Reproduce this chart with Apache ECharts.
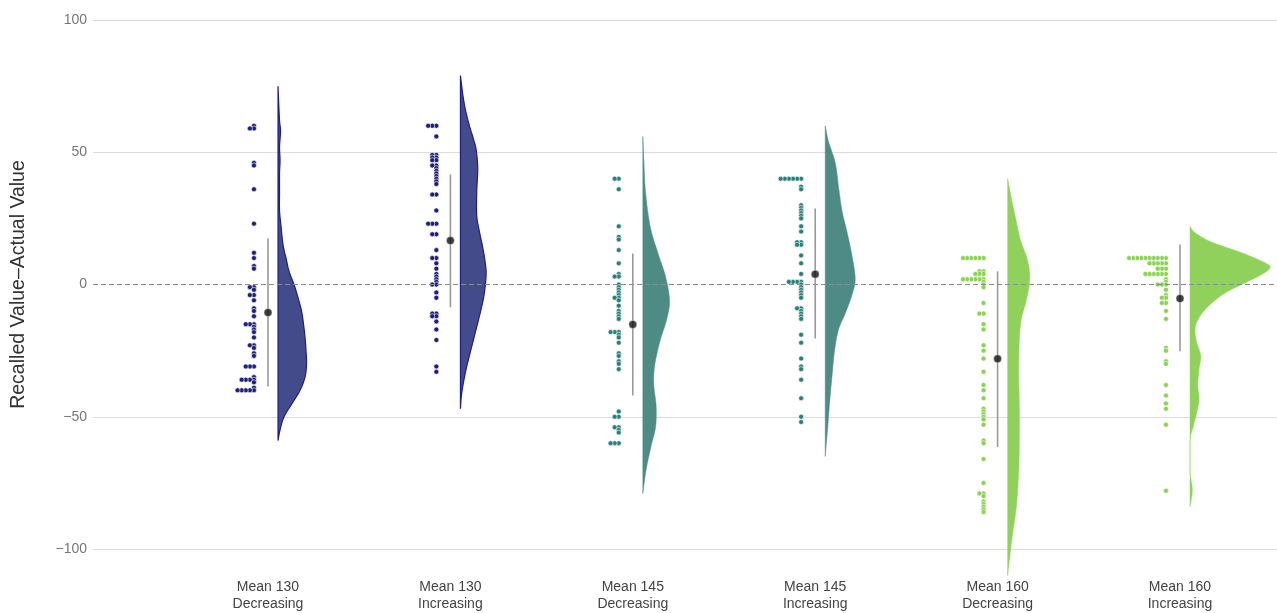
<!DOCTYPE html>
<html>
<head>
<meta charset="utf-8">
<script src="https://cdn.jsdelivr.net/npm/echarts@6/dist/echarts.min.js"></script>
<style>
  html, body { margin: 0; padding: 0; background: #fff; }
  #main { width: 1277px; height: 613px; }
</style>
</head>
<body>
<div id="main"></div>
<script>
// categories
const categories = ['Mean 130\nDecreasing', 'Mean 130\nIncreasing', 'Mean 145\nDecreasing', 'Mean 145\nIncreasing', 'Mean 160\nDecreasing', 'Mean 160\nIncreasing']
const yTicks = [-100, -50, 0, 50, 100]

// raw points (recalled - actual)
const g130Dec = [60, 59, 59, 46, 45, 36, 23, 12, 10, 7, 6, -1, -1, -2, -4, -4, -6, -9, -10, -12, -15, -15, -15, -16, -17, -18, -20, -23, -23, -24, -26, -27, -31, -31, -31, -35, -36, -36, -36, -36, -37, -39, -40, -40, -40, -40, -40]
const g130Inc = [60, 60, 60, 56, 49, 49, 48, 48, 47, 47, 45, 45, 44, 43, 42, 41, 40, 39, 38, 34, 34, 28, 23, 23, 23, 19, 19, 13, 10, 10, 8, 6, 4, 3, 2, 1, 0, 0, -3, -5, -11, -11, -12, -12, -14, -17, -21, -31, -33]
const g145Dec = [40, 40, 36, 22, 18, 17, 13, 8, 4, 3, 3, 0, -1, -2, -3, -4, -5, -5, -6, -8, -10, -11, -12, -13, -18, -18, -18, -19, -20, -22, -26, -27, -29, -30, -32, -48, -50, -50, -54, -54, -55, -56, -60, -60, -60]
const g145Inc = [40, 40, 40, 40, 40, 40, 37, 36, 30, 29, 28, 27, 26, 25, 22, 20, 16, 16, 15, 15, 11, 8, 4, 1, 1, 1, 1, 0, -1, -2, -3, -4, -5, -9, -9, -10, -11, -12, -13, -19, -22, -28, -31, -32, -36, -43, -50, -52]
const g160Dec = [10, 10, 10, 10, 10, 10, 5, 5, 4, 4, 4, 2, 2, 2, 2, 2, 2, 1, 0, -1, -7, -11, -11, -15, -17, -23, -25, -28, -33, -38, -40, -43, -47, -48, -49, -50, -51, -53, -59, -60, -66, -75, -79, -79, -80, -82, -83, -84, -85, -86]
const g160Inc = [10, 10, 10, 10, 10, 10, 10, 10, 10, 10, 8, 8, 8, 8, 8, 6, 6, 6, 4, 4, 4, 4, 4, 4, 2, 1, 0, 0, 0, -2, -4, -5, -5, -7, -7, -10, -13, -24, -25, -29, -30, -38, -42, -45, -47, -53, -78]

// mean and mean +/- sd
const means = [-10.6, 16.6, -15.1, 3.9, -28.1, -5.3]
const lows = [-38.6, -8.6, -42, -20.4, -61.4, -25.2]
const highs = [17.4, 41.6, 11.7, 28.7, 5.0, 15.1]

// half violin density [value, density]
const d130Dec = [[75, 0], [70, 0.5], [62, 1.5], [58, 2.5], [52, 1.5], [47, 2], [42, 1.5], [35, 1.5], [28, 1.5], [22, 3], [15, 5], [10, 8], [5, 11], [0, 16], [-5, 20], [-10, 23.5], [-15, 25.5], [-20, 27], [-25, 28], [-30, 28.5], [-35, 27], [-40, 22], [-45, 14], [-50, 6], [-55, 2], [-59, 0]]
const d130Inc = [[79, 0], [72, 2.3], [66, 5], [60, 9], [55, 13], [51, 15.7], [44, 17.3], [35, 16.3], [26, 16.3], [20, 19], [14, 22.3], [9, 24.5], [4, 25.7], [-3, 24], [-8, 21.5], [-13, 18.3], [-22, 12.3], [-32, 5.7], [-41, 1.3], [-47, 0]]
const d145Dec = [[56, 0], [47, 1], [35, 2.7], [22, 7.3], [12, 15], [3, 22.7], [-6, 26.7], [-13, 24], [-22, 16.7], [-31, 11.7], [-38, 11], [-46, 13.3], [-54, 12.7], [-61, 8.3], [-70, 3.3], [-79, 0]]
const d145Inc = [[60, 0], [54, 3.3], [46, 10], [37, 13.3], [28, 16.7], [20, 21.7], [11, 26.7], [2, 30], [-4, 26.7], [-11, 20], [-17, 13.3], [-25, 9.3], [-35, 6.7], [-45, 4.3], [-55, 2.3], [-65, 0]]
const d160Dec = [[40, 0], [32, 4], [25, 8], [17, 12.7], [9, 20], [2, 22], [-6, 18.7], [-13, 13.7], [-21, 11.7], [-33, 11], [-46, 11.7], [-59, 11.7], [-71, 11], [-84, 8.7], [-96, 4.3], [-110, 0]]
const d160Inc = [[22, 0], [19.6, 5], [16, 21.7], [12, 51.7], [8.2, 75], [6.3, 80], [3.8, 71.7], [0.6, 55], [-3.2, 35], [-8.2, 18.3], [-13, 8.3], [-17, 5], [-22, 6.7], [-27, 10.7], [-32, 9], [-38, 7.7], [-43.5, 9], [-48.4, 6.7], [-53.6, 3.3], [-59, 0], [-71, 0], [-77.5, 2.3], [-84, 0]]

const groups = [g130Dec, g130Inc, g145Dec, g145Inc, g160Dec, g160Inc]
const densities = [d130Dec, d130Inc, d145Dec, d145Inc, d160Dec, d160Inc]
const fills = ['#444b8b', '#444b8b', '#4f8b85', '#4f8b85', '#90d15b', '#90d15b']
const strokes = ['#1c1f86', '#1c1f86', null, null, null, null]
const dotColors = ['#1e1f78', '#1e1f78', '#2b7f7a', '#2b7f7a', '#8ad252', '#8ad252']

const FONT = '"Liberation Sans", Arial, Helvetica, sans-serif'
const VIOLIN_OFFSET = 0.055   // x units right of category centre
const DENS_SCALE = 0.00548
const DOT_OFFSET = 0.077
const DOT_STEP = 0.0225

// dot plot: identical values stack to the left
let dotData = []
groups.forEach((vals, gi) => {
  let seen = {}
  vals.forEach((v) => {
    let k = seen[v] || 0
    seen[v] = k + 1
    dotData.push({
      value: [gi + 1 - DOT_OFFSET - k * DOT_STEP, v],
      itemStyle: { color: dotColors[gi] },
    })
  })
})

function catmull(pts) {
  let out = []
  for (let i = 0; i < pts.length - 1; i++) {
    let p0 = pts[Math.max(i - 1, 0)], p1 = pts[i], p2 = pts[i + 1], p3 = pts[Math.min(i + 2, pts.length - 1)]
    for (let s = 0; s < 8; s++) {
      let t = s / 8, t2 = t * t, t3 = t2 * t
      let f = (a, b, c, d) => 0.5 * (2 * b + (-a + c) * t + (2 * a - 5 * b + 4 * c - d) * t2 + (-a + 3 * b - 3 * c + d) * t3)
      out.push([f(p0[0], p1[0], p2[0], p3[0]), f(p0[1], p1[1], p2[1], p3[1])])
    }
  }
  out.push(pts[pts.length - 1])
  return out
}

let myChart = echarts.init(document.getElementById('main'))

myChart.setOption({
  animation: false,
  textStyle: { fontFamily: FONT },
  grid: { left: 93, right: 0, top: 20, bottom: 64, containLabel: false },
  xAxis: {
    type: 'value',
    min: 1 - 175 / 182.4,
    max: 6 + 97 / 182.4,
    axisLine: { show: false },
    axisTick: { show: false },
    splitLine: { show: false },
    axisLabel: {
      customValues: [1, 2, 3, 4, 5, 6],
      formatter: (v) => categories[Math.round(v) - 1] || '',
      margin: 30,
      fontSize: 14,
      lineHeight: 17,
      color: '#444',
      fontFamily: FONT,
    },
  },
  yAxis: {
    type: 'value',
    min: -100,
    max: 100,
    interval: 50,
    name: 'Recalled Value\u2013Actual Value',
    nameLocation: 'middle',
    nameGap: 64,
    nameTextStyle: { fontSize: 19.5, color: '#333', fontFamily: FONT },
    axisLine: { show: false },
    axisTick: { show: false },
    axisLabel: {
      margin: 6,
      fontSize: 14,
      color: '#777',
      fontFamily: FONT,
      customValues: yTicks,
      formatter: (v) => String(v).replace('-', '\u2212'),
    },
    splitLine: {
      lineStyle: { color: ['#dcdcdc', '#dcdcdc', 'rgba(0,0,0,0)', '#dcdcdc', '#dcdcdc'], width: 1 },
    },
  },
  series: [
    {
      type: 'custom',
      name: 'density',
      data: categories.map((c, i) => [i + 1, 0]),
      clip: false,
      renderItem: (params, api) => {
        let gi = params.dataIndex
        let dens = densities[gi]
        let x0 = gi + 1 + VIOLIN_OFFSET
        let basePx = api.coord([x0, 0])[0]
        let outline = dens.map(([v, d]) => api.coord([x0 + d * DENS_SCALE, v]))
        let smooth = catmull(outline).map((p) => [Math.max(p[0], basePx), p[1]])
        let points = [api.coord([x0, dens[0][0]])].concat(smooth, [api.coord([x0, dens[dens.length - 1][0]])])
        return {
          type: 'polygon',
          shape: { points: points },
          style: {
            fill: fills[gi],
            stroke: strokes[gi] || fills[gi],
            lineWidth: strokes[gi] ? 1.2 : 0.5,
          },
        }
      },
      markLine: {
        silent: true,
        symbol: 'none',
        label: { show: false },
        lineStyle: { color: '#8c8c8c', type: [5, 3], width: 1 },
        data: [{ yAxis: 0 }],
      },
      z: 2,
    },
    {
      type: 'custom',
      name: 'sd',
      data: categories.map((c, i) => [i + 1, lows[i], highs[i]]),
      renderItem: (params, api) => {
        let a = api.coord([api.value(0), api.value(1)])
        let b = api.coord([api.value(0), api.value(2)])
        return {
          type: 'line',
          shape: { x1: a[0], y1: a[1], x2: b[0], y2: b[1] },
          style: { stroke: '#9a9a9a', lineWidth: 1.6 },
        }
      },
      z: 3,
    },
    {
      type: 'scatter',
      name: 'points',
      data: dotData,
      symbolSize: 5,
      itemStyle: { borderColor: '#fff', borderWidth: 0.6, opacity: 1 },
      z: 4,
    },
    {
      type: 'scatter',
      name: 'mean',
      data: means.map((m, i) => [i + 1, m]),
      symbolSize: 8,
      itemStyle: { color: '#111', borderColor: '#fff', borderWidth: 0.5 },
      z: 5,
    },
  ],
})

window.addEventListener('resize', () => {
  myChart.resize()
})
</script>
</body>
</html>
